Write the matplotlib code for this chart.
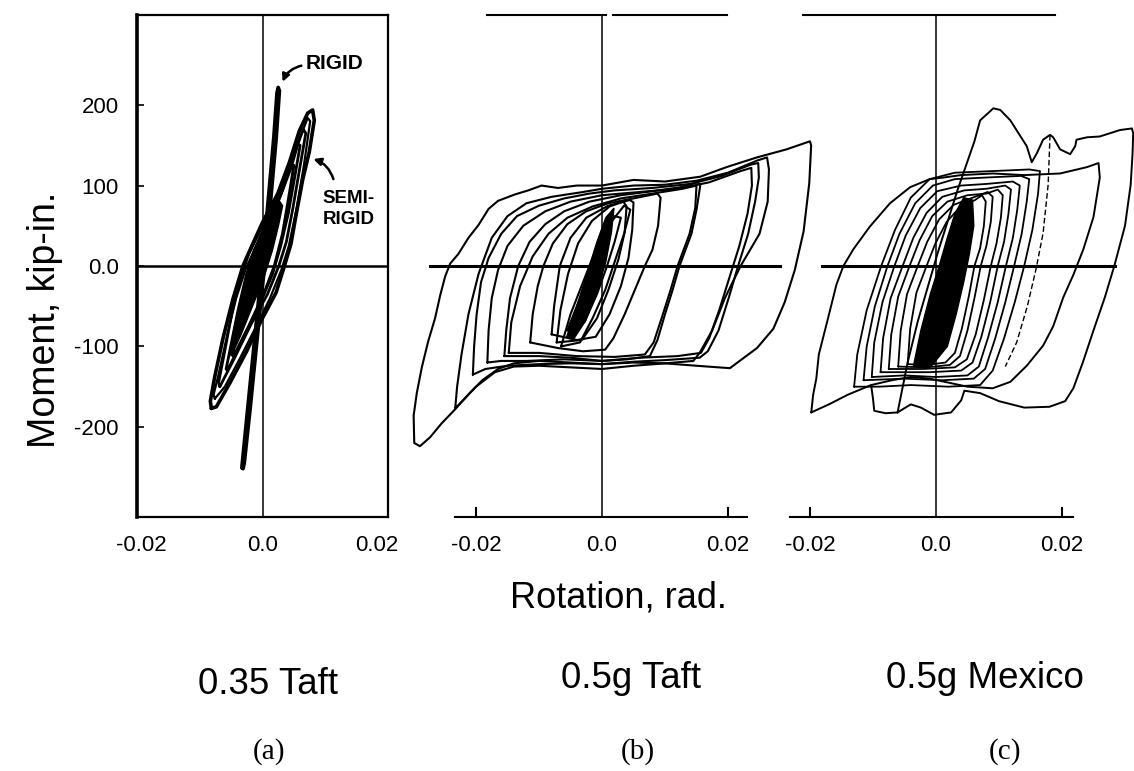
import matplotlib.pyplot as plt
import numpy as np

plt.rcParams['font.family'] = ['Liberation Sans', 'DejaVu Sans']

# all rotations below are in milli-radians, moments in kip-in.
# (loop by loop)

# ---- (a) 0.35 Taft ----
a_rigid_rot = [-3.3, -2.4, -1.5, -0.6, 0.2, 1.0, 1.8, 2.3, 2.5, 2.7, 2.2, 1.4, 0.6, -0.2, -1.1, -2.0, -2.9, -3.1]
a_rigid_mom = [-251, -180, -110, -40, 20, 90, 160, 215, 222, 218, 160, 90, 20, -40, -110, -180, -245, -252]

a_semi1_rot = [-8.15, -7.35, -5.24, -2.59, -0.21, 2.17, 3.49, 4.55, 5.34, 6.40, 7.46, 8.25, 7.99, 7.20,
               5.87, 4.29, 2.43, 0.05, -1.53, -3.12, -4.71, -6.30, -7.62, -8.31, -8.15]
a_semi1_mom = [-177, -175, -146, -107, -68, -33, 0, 28, 63, 107, 142, 181, 194, 190,
               168, 129, 90, 55, 28, 0, -41, -90, -138, -168, -177]
a_semi2_rot = [-6.8, -4.5, -1.8, 0.8, 2.6, 3.8, 4.8, 5.9, 6.9, 6.5, 5.3, 3.8, 1.8, -0.5, -2.2, -3.5, -4.8, -6.0, -7.0, -6.8]
a_semi2_mom = [-150, -115, -72, -35, 0, 30, 70, 120, 165, 170, 145, 110, 75, 42, 15, -15, -55, -105, -145, -150]
a_semi3_rot = [-5.6, -3.2, -0.6, 1.6, 2.9, 4.1, 5.3, 6.0, 5.5, 4.2, 2.5, 0.5, -1.3, -2.6, -3.9, -5.2, -5.8, -5.6]
a_semi3_mom = [-130, -92, -50, -10, 25, 65, 118, 150, 152, 120, 82, 50, 20, -12, -55, -105, -128, -130]
a_semi4_rot = [-4.6, -2.2, 0.2, 1.9, 3.2, 4.4, 5.0, 4.4, 3.2, 1.4, -0.5, -1.8, -3.0, -4.3, -4.8, -4.6]
a_semi4_mom = [-112, -75, -35, 0, 40, 95, 125, 126, 95, 60, 30, 0, -40, -90, -110, -112]
a_semi5_rot = [-7.6, -6.0, -3.6, -1.0, 1.2, 3.0, 4.2, 5.4, 6.6, 7.6, 7.2, 6.0, 4.6, 2.8, 0.8, -1.0, -2.6, -4.2, -5.6, -7.0, -7.8, -7.6]
a_semi5_mom = [-165, -150, -115, -75, -40, -5, 25, 70, 125, 180, 184, 160, 122, 85, 52, 25, -2, -40, -85, -135, -160, -165]
a_core_rot = [-5.0, -3.4, -1.6, 0.2, 1.6, 2.6, 3.2, 2.6, 1.2, -0.4, -1.8, -3.0, -4.2, -5.2]
a_core_mom = [-112, -85, -50, -15, 20, 52, 75, 82, 62, 38, 10, -25, -65, -105]

# ---- (b) 0.5g Taft ----
b_outer_rot = [20.3, 15, 10, 5, 0, -5, -10, -14, -16.5, -19, -21, -23.3, -25.5, -27.3, -28.9, -29.8, -29.9,
               -29.4, -28.6, -27.6, -26.5, -25.7, -24.9, -24.1, -22.8, -21.2, -19.6, -18.0, -16.5, -13.8,
               -11.7, -9.6, -7, -4, 0, 5, 10, 15.6, 19.8, 24.6, 29.3, 33.0, 33.2, 32.9, 32.0, 30.6, 29.0,
               27.2, 24.6, 20.3]
b_outer_mom = [-127, -124, -121, -120, -122, -120, -118, -121, -128, -142, -158, -178, -196, -213, -224, -220, -186,
               -158, -126, -94, -65, -37, -13, 3, 15, 35, 51, 71, 81, 89,
               94, 100, 97, 100, 100, 107, 105, 111, 123, 135, 145, 155, 150, 103, 43, -5, -45,
               -78, -102, -127]
b_loop2_rot = [-23.3, -23.0, -22.3, -21.2, -19.6, -17.5, -15, -12, -8, -3, 0, 5, 10, 15, 20, 24.6, 26.2,
               26.5, 26.3, 25.0, 22, 19.5, 17.5, 15.5, 14.5, 10, 5, 0, -5, -10, -14, -17, -20, -23.3]
b_loop2_mom = [-177, -150, -110, -60, -10, 35, 62, 78, 86, 92, 96, 100, 101, 106, 116, 131, 135,
               120, 80, 40, 0, -40, -80, -108, -118, -121, -124, -128, -126, -124, -125, -132, -150, -177]
b_loop3_rot = [-20.5, -20.3, -19.9, -19.2, -18.0, -16, -13.5, -10, -6, -2, 2, 8, 14, 19, 23.6, 24.8,
               24.9, 24.3, 23.2, 21.6, 20.1, 18.5, 16.8, 15.5, 10, 5, 0, -5, -10, -15, -18.5, -20.5]
b_loop3_mom = [-135, -100, -60, -20, 10, 40, 62, 75, 84, 90, 94, 97, 102, 112, 126, 128,
               110, 80, 40, 0, -40, -80, -106, -114, -117, -119, -122, -121, -122, -124, -128, -135]
b_loop4_rot = [-18.2, -18.0, -17.5, -16.5, -15, -12.5, -9, -5, 0, 6, 12, 17, 22, 23.7, 23.8, 23.1, 21.8,
               20.2, 18.6, 17, 15.7, 12, 6, 0, -6, -12, -16, -18.2]
b_loop4_mom = [-120, -80, -40, -5, 25, 50, 68, 80, 88, 92, 96, 104, 118, 122, 100, 65, 25,
               -15, -55, -90, -108, -112, -114, -118, -116, -118, -118, -120]
b_loop5_rot = [-15.5, -15.2, -14.6, -13.3, -11.5, -9, -6, -2, 3, 8, 12.5, 15.2, 15.6, 15.0, 14.2, 12.3,
               11.2, 10.0, 8.8, 7.6, 4, 0, -5, -10, -15.5]
b_loop5_mom = [-112, -80, -40, 0, 30, 52, 68, 80, 88, 93, 98, 104, 100, 70, 40, 0,
               -30, -60, -92, -112, -116, -118, -114, -112, -112]
b_loop5b_rot = [-14.8, -14.4, -13.0, -11.0, -8.5, -5.5, -1.5, 3, 8, 12.8, 15.0, 14.8, 13.9, 12.0, 10.8, 9.5, 8.2, 6.8, 2, -4, -10, -14.8]
b_loop5b_mom = [-108, -70, -25, 12, 40, 60, 74, 84, 90, 96, 100, 72, 40, 0, -32, -64, -95, -110, -113, -112, -108, -108]
b_loop6_rot = [-11.4, -11.0, -10.2, -9.3, -7.8, -5.5, -2.5, 1, 5, 8.8, 9.3, 8.9, 8.0, 6.8, 5.2, 3.6, 1.8,
               0.5, -3, -7, -11.4]
b_loop6_mom = [-95, -60, -25, 0, 28, 52, 68, 78, 84, 90, 85, 50, 20, 0, -30, -60, -90,
               -104, -106, -102, -95]
b_loop7_rot = [-8, -7.6, -6.7, -5, -2.5, 1, 4.4, 5.0, 4.8, 4.2, 3.0, 1.2, -1, -4, -8]
b_loop7_mom = [-85, -50, 0, 35, 60, 75, 82, 79, 45, 10, -25, -60, -88, -92, -85]
b_loop8_rot = [-7.2, -6.6, -5.4, -3.8, -1.6, 1.2, 3.4, 3.9, 3.6, 2.6, 1.0, -0.8, -3.2, -7.2]
b_loop8_mom = [-95, -55, -10, 28, 56, 74, 80, 74, 42, 8, -30, -65, -92, -95]
b_inner1_rot = [-6.5, -5, -3, -1, 1.5, 3.5, 4.5, 3.5, 2, 0.5, -1.5, -3.5, -6.5]
b_inner1_mom = [-100, -60, -20, 20, 55, 75, 70, 40, 5, -30, -65, -95, -100]
b_inner2_rot = [-5.5, -3.5, -1.8, 0, 2, 3, 2, 0.8, -0.8, -2.8, -5.5]
b_inner2_mom = [-80, -40, 0, 35, 62, 60, 30, 0, -35, -70, -80]
b_core_rot = [-5.6, -4.0, -2.3, -0.8, 0.6, 1.9, 1.5, 0.6, -0.7, -2.6, -4.6]
b_core_mom = [-88, -50, -8, 30, 60, 72, 42, 5, -30, -68, -92]

# ---- (c) 0.5g Mexico ----
c_left_rot = [-19.8, -19.5, -19.0, -18.6, -17.3, -15.8, -14.7, -13.1, -10.5, -7.3, -4.1, -1.0, 1.2, 4.0, 9.0,
              14.0, 19.7, 24.0, 25.8, 26.0, 25.0, 23.4, 21.8, 20.2, 18.6, 17.0, 14.4, 11.8, 9.0, 5.0, 2.0,
              -1.0, -4.0, -7.0, -10.3, -14.0, -17.0, -19.8]
c_left_mom = [-182, -160, -140, -110, -70, -23, 0, 21, 49, 78, 98, 108, 110, 113, 115,
              113, 115, 123, 128, 110, 61, 21, -11, -39, -75, -99, -124, -144, -152, -150, -145,
              -140, -138, -142, -148, -160, -172, -182]
c_peak_rot = [-6.1, -4.5, -2.9, 0.3, 3.4, 6.1, 7.0, 9.1, 10.2, 11.8, 14.4, 15.2, 16.0, 17.0, 18.1, 18.6,
              19.7, 21.3, 22.1, 22.3, 24.0, 26.0, 29.2, 31.1, 31.3, 31.2, 30.9, 30.0, 28.3, 26.8, 25.0,
              23.3, 21.8, 20.5, 18.0, 14.0, 10.0, 7.0, 4.5, 4.0, 2.4, -0.3, -2.4, -4.0, -6.1]
c_peak_mom = [-182, -120, -69, 17, 94, 155, 181, 196, 194, 181, 149, 129, 140, 157, 163, 160,
              145, 139, 149, 157, 160, 161, 169, 171, 165, 140, 101, 50, 0, -39, -80,
              -120, -152, -168, -175, -176, -168, -158, -155, -167, -182, -185, -176, -172, -182]
c_lobe_rot = [-10.3, -10.0, -9.8, -8.0, -6.1]
c_lobe_mom = [-148, -165, -180, -183, -182]
c_dash_rot = [18.1, 17.8, 17.0, 15.9, 14.5, 12.8, 11.0]
c_dash_mom = [163, 101, 41, -3, -50, -95, -125]
c_loop3_rot = [-13.0, -12.5, -11.0, -8.7, -6.5, -4.0, -1.0, 3, 9, 14.8, 16.5, 16.2, 15.3, 14.0, 12.5, 10.8,
               9.0, 7.0, 2, -4, -9, -13.0]
c_loop3_mom = [-150, -110, -55, 0, 45, 85, 108, 116, 118, 120, 118, 90, 45, 0, -45, -90,
               -130, -148, -150, -148, -150, -150]
c_loop4_rot = [-11.5, -11.0, -9.7, -7.7, -5.8, -3.3, -0.5, 3, 8, 13.5, 14.8, 14.4, 13.6, 12.4, 11.0, 9.4,
               7.8, 6.0, 1, -5, -11.5]
c_loop4_mom = [-142, -100, -50, 0, 40, 78, 100, 108, 110, 112, 108, 80, 40, 0, -45, -90,
               -128, -140, -142, -140, -142]
c_loop5_rot = [-10.2, -9.8, -8.5, -6.6, -4.8, -2.5, 0.2, 4, 8, 12.2, 13.3, 12.9, 12.2, 11.1, 9.8, 8.3,
               6.8, 5.0, 0, -5, -10.2]
c_loop5_mom = [-138, -95, -45, 0, 38, 72, 93, 100, 102, 105, 100, 70, 35, 0, -45, -88,
               -125, -136, -138, -136, -138]
c_loop6_rot = [-8.8, -8.4, -7.2, -5.3, -3.6, -1.5, 1, 4.5, 8, 11, 11.9, 11.5, 10.8, 9.8, 8.6, 7.2, 5.8,
               4.0, -1, -8.8]
c_loop6_mom = [-132, -90, -40, 0, 35, 66, 86, 94, 96, 100, 95, 65, 30, 0, -45, -88, -120,
               -130, -132, -132]
c_loop7_rot = [-7.5, -7.1, -6.0, -4.2, -2.6, -0.6, 1.8, 5, 8, 9.8, 10.6, 10.3, 9.6, 8.7, 7.6, 6.3, 4.9,
               3.0, -2, -7.5]
c_loop7_mom = [-128, -85, -38, 0, 32, 62, 80, 88, 90, 95, 88, 60, 28, 0, -42, -85, -116,
               -126, -128, -128]
c_loop8_rot = [-6.0, -5.6, -4.6, -2.9, -1.4, 0.5, 2.8, 5.5, 8.2, 9.0, 8.7, 8.0, 7.1, 6.1, 5.0, 3.8, 2.2,
               -1.5, -6.0]
c_loop8_mom = [-125, -80, -35, 0, 30, 58, 76, 84, 92, 86, 55, 25, 0, -40, -80, -112, -123,
               -126, -125]
c_loop9_rot = [-4.5, -4.1, -3.1, -1.5, -0.1, 1.7, 3.8, 6.2, 7.3, 7.9, 7.6, 7.0, 6.1, 5.2, 4.1, 3.0, 1.5,
               -1.5, -4.5]
c_loop9_mom = [-122, -78, -33, 0, 28, 55, 73, 82, 88, 80, 50, 22, 0, -38, -78, -108, -120,
               -123, -122]
c_core_rot = [-3.6, -2.4, -0.9, 0.5, 1.8, 3.0, 4.4, 5.8, 6.0, 5.3, 4.4, 3.2, 1.8, -0.8]
c_core_mom = [-125, -80, -35, 0, 35, 65, 85, 82, 50, 15, -20, -60, -100, -125]

y_ticks = [200, 100, 0, -100, -200]
y_tick_labels = ['200', '100', '0.0', '-100', '-200']
x_ticks = [-0.02, 0.0, 0.02]
x_tick_labels = ['-0.02', '0.0', '0.02']
titles = ['0.35 Taft', '0.5g Taft', '0.5g Mexico']
letters = ['(a)', '(b)', '(c)']

W, H = 1134, 771
fig = plt.figure(figsize=(W / 100, H / 100), dpi=100)


def box(x0, x1, y0=15, y1=517):
    # pixel box -> figure fraction
    return [x0 / W, (H - y1) / H, (x1 - x0) / W, (y1 - y0) / H]


def trace(ax, rot, mom, lw=1.4, **kw):
    ax.plot(np.array(rot) / 1000, mom, color='k', lw=lw, clip_on=False,
            solid_joinstyle='round', solid_capstyle='round', **kw)


def blob(ax, rot, mom):
    ax.fill(np.array(rot) / 1000, mom, color='k', lw=1.0, clip_on=False)


YL = (-312, 312)

# ---------- panel a ----------
ax_a = fig.add_axes(box(137, 388))
ax_a.set_xlim(-0.02, 0.02)
ax_a.set_ylim(*YL)
for s in ax_a.spines.values():
    s.set_linewidth(1.6)
ax_a.spines['left'].set_linewidth(2.6)
ax_a.set_yticks(y_ticks, y_tick_labels, fontsize=16)
ax_a.set_xticks([])
ax_a.tick_params(axis='y', direction='in', length=5, width=1.2, pad=13)
# the x labels of the scan sit a little inside the frame corners
for t, lab, nudge in zip(x_ticks, x_tick_labels, [0.0007, 0.0, -0.0018]):
    ax_a.text(t + nudge, -348, lab, fontsize=16, ha='center', va='center')
ax_a.axhline(0, color='k', lw=1.8)
ax_a.axvline(0, color='k', lw=1.1)

trace(ax_a, a_rigid_rot, a_rigid_mom, lw=2.6)
trace(ax_a, a_semi1_rot, a_semi1_mom, lw=2.6)
trace(ax_a, a_semi5_rot, a_semi5_mom, lw=1.6)
trace(ax_a, a_semi2_rot, a_semi2_mom, lw=2.0)
trace(ax_a, a_semi3_rot, a_semi3_mom, lw=2.0)
trace(ax_a, a_semi4_rot, a_semi4_mom, lw=2.2)
blob(ax_a, a_core_rot, a_core_mom)

ax_a.text(0.0068, 252, 'RIGID', fontsize=15, fontweight='bold', ha='left', va='center')
ax_a.annotate('', xy=(0.0032, 229), xytext=(0.0062, 249),
              arrowprops=dict(arrowstyle='-|>', lw=1.8, color='k', mutation_scale=11,
                              connectionstyle='arc3,rad=0.25', shrinkA=0, shrinkB=0))
ax_a.text(0.0096, 71, 'SEMI-\nRIGID', fontsize=13.5, fontweight='bold', ha='left', va='center',
          linespacing=1.25)
ax_a.annotate('', xy=(0.0081, 133), xytext=(0.0113, 108),
              arrowprops=dict(arrowstyle='-|>', lw=1.8, color='k', mutation_scale=11,
                              connectionstyle='arc3,rad=0.25', shrinkA=0, shrinkB=0))


def open_frame(ax, top, hline, bottom):
    # partial frame used in panels b and c (all in rad)
    ax.set_ylim(*YL)
    ax.axis('off')
    ax.patch.set_alpha(0)
    for seg in top:
        ax.plot(seg, [YL[1]] * 2, color='k', lw=1.5, clip_on=False)
    ax.plot(hline, [0, 0], color='k', lw=2.2, clip_on=False)
    ax.plot(bottom, [YL[0]] * 2, color='k', lw=1.5, clip_on=False)
    ax.plot([0, 0], YL, color='k', lw=1.1, clip_on=False)
    for t, lab in zip(x_ticks, x_tick_labels):
        if t != 0:
            ax.plot([t, t], [YL[0], YL[0] + 11], color='k', lw=1.5, clip_on=False)
        ax.text(t, -348, lab, fontsize=16, ha='center', va='center')


# ---------- panel b ----------
ax_b = fig.add_axes(box(400, 790))
ax_b.set_xlim((400 - 602) / 6300, (790 - 602) / 6300)
open_frame(ax_b, [[-0.0183, 0.0007], [0.0017, 0.0198]], [-0.0273, 0.0283], [-0.0233, 0.0230])

trace(ax_b, b_outer_rot, b_outer_mom, lw=1.5)
for r, m in [(b_loop2_rot, b_loop2_mom), (b_loop3_rot, b_loop3_mom), (b_loop4_rot, b_loop4_mom),
             (b_loop5_rot, b_loop5_mom), (b_loop5b_rot, b_loop5b_mom), (b_loop6_rot, b_loop6_mom),
             (b_loop7_rot, b_loop7_mom), (b_loop8_rot, b_loop8_mom), (b_inner1_rot, b_inner1_mom),
             (b_inner2_rot, b_inner2_mom)]:
    trace(ax_b, r, m, lw=1.5)
blob(ax_b, b_core_rot, b_core_mom)

# ---------- panel c ----------
ax_c = fig.add_axes(box(780, 1134))
ax_c.set_xlim((780 - 936) / 6300, (1134 - 936) / 6300)
open_frame(ax_c, [[-0.0211, 0.0189]], [-0.0181, 0.0284], [-0.0232, 0.0217])

trace(ax_c, c_left_rot, c_left_mom)
trace(ax_c, c_peak_rot, c_peak_mom)
trace(ax_c, c_lobe_rot, c_lobe_mom)
trace(ax_c, c_dash_rot, c_dash_mom, lw=1.0, ls=(0, (4, 2)))
for r, m in [(c_loop3_rot, c_loop3_mom), (c_loop4_rot, c_loop4_mom), (c_loop5_rot, c_loop5_mom),
             (c_loop6_rot, c_loop6_mom), (c_loop7_rot, c_loop7_mom), (c_loop8_rot, c_loop8_mom),
             (c_loop9_rot, c_loop9_mom)]:
    trace(ax_c, r, m, lw=1.3)
blob(ax_c, c_core_rot, c_core_mom)

# ---------- shared text ----------
fig.text(45 / W, 1 - 320 / H, 'Moment, kip-in.', rotation=90, fontsize=27, ha='center', va='center')
fig.text(618 / W, 1 - 598 / H, 'Rotation, rad.', fontsize=26, ha='center', va='center')
for x, y, t in zip([268, 631, 985], [684, 679, 679], titles):
    fig.text(x / W, 1 - y / H, t, fontsize=26.5, ha='center', va='center')
for x, t in zip([269, 638, 1005], letters):
    fig.text(x / W, 1 - 752 / H, t, fontsize=21, ha='center', va='center', family='Liberation Serif')

fig.savefig('out.png', dpi=100)
